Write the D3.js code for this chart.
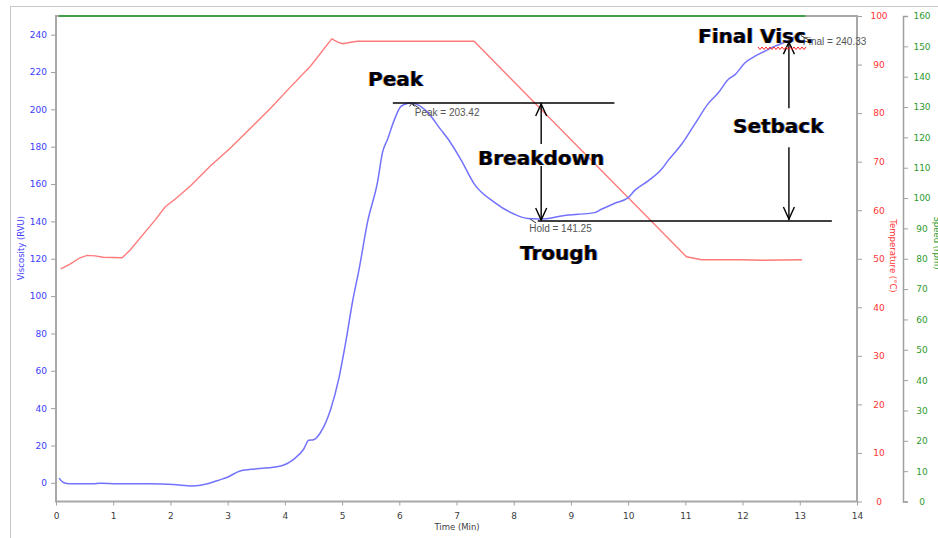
<!DOCTYPE html>
<html><head><meta charset="utf-8">
<script src="https://cdn.jsdelivr.net/npm/d3@7"></script>
<style>
html,body{margin:0;padding:0;background:#fff;overflow:hidden}
svg{display:block}
</style></head><body>
<svg id="chart" width="938" height="538"></svg>
<script>
// RVA pasting profile, time in minutes
const viscTime = [0.053,0.128,0.245,0.648,0.771,1.069,1.647,2.05,2.383,2.646,2.874,2.996,3.207,3.504,3.907,4.153,4.328,4.416,4.503,4.626,4.801,4.941,5.064,5.181,5.297,5.444,5.619,5.707,5.794,5.91,6.028,6.145,6.203,6.308,6.496,6.729,6.846,7.079,7.312,7.663,8.013,8.248,8.428,8.568,8.831,9.124,9.415,9.532,9.765,10.0,10.115,10.35,10.583,10.7,10.934,11.167,11.402,11.577,11.752,11.868,12.043,12.218,12.393,12.569,12.716,12.861,13.0];
const viscValue = [2.5,0.2,-0.5,-0.5,-0.2,-0.5,-0.5,-0.9,-1.7,-0.5,1.7,3.0,6.2,7.5,8.9,12.6,18.0,22.8,23.1,27.1,39.4,55.5,75.3,96.7,114.3,139.5,160.9,177.0,183.9,194.1,201.6,203.2,203.42,202.7,198.4,189.0,184.4,173.0,160.0,150.2,143.8,141.5,141.25,141.4,142.9,143.8,144.7,146.5,149.7,152.7,156.6,161.7,167.9,172.7,181.3,192.2,203.2,208.9,216.1,218.6,225.0,228.5,231.2,233.9,235.7,238.0,240.33];

const tempTime = [0.082,0.245,0.42,0.543,0.683,0.824,1.156,1.297,1.472,1.735,1.91,2.085,2.348,2.698,3.049,3.399,3.75,4.1,4.45,4.82,4.924,5.011,5.152,5.274,7.307,11.02,11.28,11.985,12.34,13.04];
const tempValue = [47.9,48.9,50.2,50.7,50.6,50.3,50.2,51.8,54.3,58.0,60.7,62.3,65.0,69.1,72.8,76.9,81.0,85.4,89.7,95.3,94.6,94.3,94.6,94.8,94.8,50.4,49.8,49.8,49.7,49.8];

const speedTime = [0.05, 13.1];
const speedValue = [160, 160];

const timeTicks = d3.range(0, 15, 1);
const viscTicks = d3.range(0, 241, 20);
const tempTicks = d3.range(0, 101, 10);
const speedTicks = d3.range(0, 161, 10);

// Pasting parameters
const peakTime = 6.203, peakValue = 203.42;
const holdTime = 8.428, holdValue = 141.25;
const finalTime = 13.0, finalValue = 240.33;

const svg = d3.select('#chart');
const L = 56, R = 857, T = 16, B = 501.5;

const x = d3.scaleLinear().domain([0, 14]).range([L, R]);
const y = d3.scaleLinear().domain([-10, 250]).range([B, T]);
const yT = d3.scaleLinear().domain([0, 100]).range([B, T]);
const yS = d3.scaleLinear().domain([0, 160]).range([B, T]);

const font = "'DejaVu Sans', Verdana, sans-serif";

// outer panel frame
svg.append('rect').attr('x', 10.5).attr('y', 6.5).attr('width', 960).attr('height', 560)
  .attr('fill', 'none').attr('stroke', '#c8c8c8').attr('stroke-width', 1);

// plot frame
svg.append('rect').attr('x', L).attr('y', T).attr('width', R - L).attr('height', B - T)
  .attr('fill', 'none').attr('stroke', '#a8a8a8').attr('stroke-width', 2);

function styleAxis(g, color) {
  g.selectAll('.tick line').attr('stroke', '#a0a0a0').attr('stroke-width', 1);
  g.selectAll('.tick text').attr('fill', color).style('font-family', font).style('font-size', '9px');
  g.select('.domain').attr('stroke', '#a0a0a0').attr('stroke-width', 1.5);
}

// time axis
const gx = svg.append('g').attr('transform', `translate(0,${B})`)
  .call(d3.axisBottom(x).tickValues(timeTicks).tickSize(4).tickSizeOuter(0).tickPadding(7));
gx.select('.domain').remove();
styleAxis(gx, '#404040');

// viscosity axis
const gy = svg.append('g').attr('transform', `translate(${L},0)`)
  .call(d3.axisLeft(y).tickValues(viscTicks).tickSize(5).tickSizeOuter(0).tickPadding(4));
gy.select('.domain').remove();
styleAxis(gy, '#3c3cff');

// temperature axis
const gt = svg.append('g').attr('transform', `translate(${R},0)`)
  .call(d3.axisRight(yT).tickValues(tempTicks).tickSize(5).tickSizeOuter(0));
gt.select('.domain').remove();
styleAxis(gt, '#ff3333');
gt.selectAll('.tick text').attr('x', 22).attr('text-anchor', 'middle');

// speed axis
const gs = svg.append('g').attr('transform', 'translate(903,0)')
  .call(d3.axisRight(yS).tickValues(speedTicks).tickSize(5).tickSizeOuter(5));
styleAxis(gs, '#2e9a2e');
gs.selectAll('.tick text').attr('x', 19).attr('text-anchor', 'middle');

// axis titles
svg.append('text').attr('x', 457).attr('y', 530).attr('text-anchor', 'middle')
  .style('font-family', font).style('font-size', '8.5px').attr('fill', '#404040').text('Time (Min)');
svg.append('text').attr('transform', 'translate(24,248) rotate(-90)').attr('text-anchor', 'middle')
  .style('font-family', font).style('font-size', '8.5px').attr('fill', '#3c3cff').text('Viscosity (RVU)');
svg.append('text').attr('transform', 'translate(890,256) rotate(90)').attr('text-anchor', 'middle')
  .style('font-family', font).style('font-size', '8.5px').attr('fill', '#ff3333').text('Temperature (°C)');
svg.append('text').attr('transform', 'translate(934,243) rotate(90)').attr('text-anchor', 'middle')
  .style('font-family', font).style('font-size', '8.5px').attr('fill', '#2e9a2e').text('Speed (rpm)');

// series
const line = (xs, ys, sy, curve = d3.curveLinear) =>
  d3.line().curve(curve).x((d, i) => x(xs[i])).y((d, i) => sy(ys[i]))(xs);

svg.append('path').attr('d', line(speedTime, speedValue, yS))
  .attr('fill', 'none').attr('stroke', '#45a045').attr('stroke-width', 1.8);
svg.append('path').attr('d', line(tempTime, tempValue, yT))
  .attr('fill', 'none').attr('stroke', '#ff7a7a').attr('stroke-width', 1.4);
svg.append('path').attr('d', line(viscTime, viscValue, y, d3.curveMonotoneX))
  .attr('fill', 'none').attr('stroke', '#7272ff').attr('stroke-width', 1.5);

// annotations
const ann = svg.append('g');
const blk = {stroke: '#000', 'stroke-width': 1.4, fill: 'none'};
function seg(x1, y1, x2, y2, st = blk) {
  const l = ann.append('line').attr('x1', x1).attr('y1', y1).attr('x2', x2).attr('y2', y2);
  Object.entries(st).forEach(([k, v]) => l.attr(k, v));
}
function head(xp, yp, dir, w = 5.5, len = 12, st = blk) {
  // open V arrowhead; dir = -1 points up, +1 points down
  const p = ann.append('path')
    .attr('d', `M${xp - w},${yp - dir * len} L${xp},${yp} L${xp + w},${yp - dir * len}`);
  Object.entries(st).forEach(([k, v]) => p.attr(k, v));
}
function bigLabel(txt, x0, y0) {
  const g = ann.append('g').style('font-family', font).style('font-size', '20px').style('font-weight', 'bold');
  [['#f09a20', -0.8, 0.75], ['#1e5cff', 0.8, 0.75], ['#000', 0, 1]].forEach(([c, dx, op]) =>
    g.append('text').attr('x', x0 + dx).attr('y', y0).attr('fill', c).attr('fill-opacity', op).text(txt));
}
function smallLabel(txt, x0, y0) {
  ann.append('text').attr('x', x0).attr('y', y0).attr('fill', '#555')
    .style('font-family', "'Liberation Sans', Arial, sans-serif").style('font-size', '10px').text(txt);
}
const thin = {stroke: '#333', 'stroke-width': 1, fill: 'none'};

const yPeak = y(peakValue), yHold = y(holdValue), yFinal = y(finalValue);

// peak reference line
seg(x(5.887), yPeak, x(9.76), yPeak);
// trough reference line
seg(x(8.42), yHold + 2, x(13.56), yHold + 2);

// breakdown arrow
const xb = x(8.48);
seg(xb, yPeak, xb, yPeak + 41);
seg(xb, yPeak + 63, xb, yHold + 1);
head(xb, yPeak + 1, -1);
head(xb, yHold + 1, 1);

// setback arrow
const xs = x(12.81);
const ySetTop = y(236);
seg(xs, ySetTop, xs, ySetTop + 66);
seg(xs, ySetTop + 105, xs, yHold + 1);
head(xs, ySetTop, -1);
head(xs, yHold, 1);

// small value markers
smallLabel('Peak = 203.42', x(6.27), yPeak + 13);
seg(x(peakTime) + 8, yPeak + 5, x(peakTime) + 1, yPeak + 0.5, thin);
head(x(peakTime) + 1, yPeak + 0.5, -1, 2.5, 3, thin);
smallLabel('Hold = 141.25', x(8.27), yHold + 13);
seg(x(holdTime) - 2, yHold + 4, x(holdTime) - 8, yHold, thin);
smallLabel('Final = 240.33', x(13.05), yFinal + 11);
seg(x(finalTime) + 9, yFinal + 6, x(finalTime) + 1, yFinal + 1.5, thin);

bigLabel('Peak', 368, yPeak - 16.5);
bigLabel('Breakdown', 478, 165);
bigLabel('Trough', 520, yHold + 41);
bigLabel('Setback', 733, 133);
bigLabel('Final Visc.', 698, 43);

// spell-check squiggle under "Visc."
let sq = 'M758,47';
for (let px = 758, k = 0; px < 806; px += 2, k++) sq += ` L${px + 2},${k % 2 ? 47 : 49.5}`;
ann.append('path').attr('d', sq).attr('fill', 'none').attr('stroke', '#ff2020').attr('stroke-width', 1);
</script>
</body></html>
